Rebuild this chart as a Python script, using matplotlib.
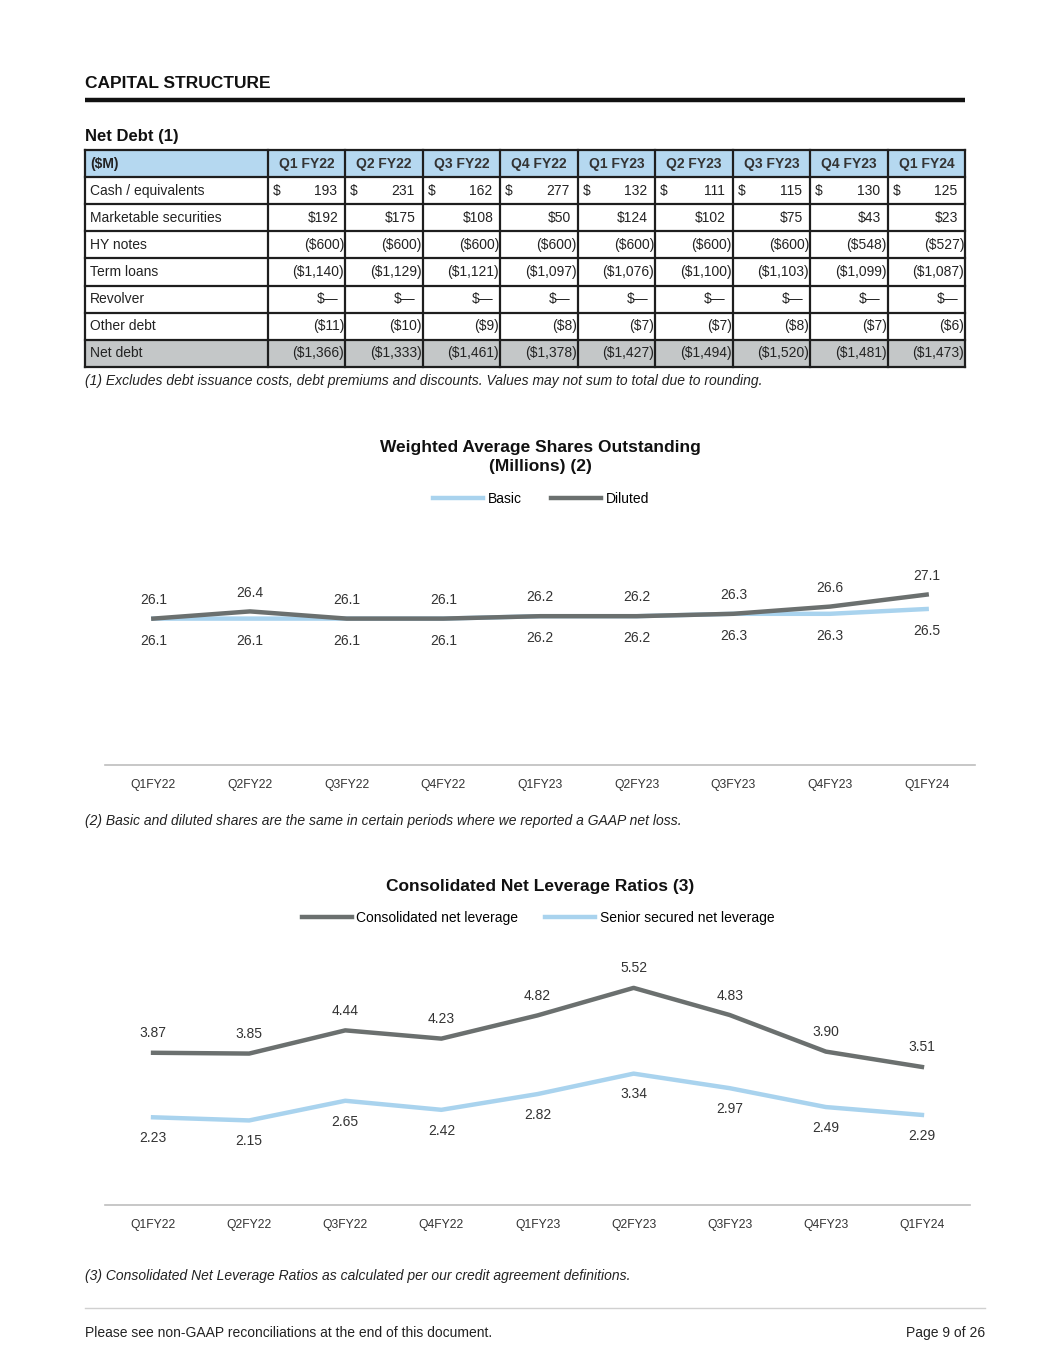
import numpy as np
import matplotlib
matplotlib.use("Agg")
import matplotlib.pyplot as plt
from matplotlib.patches import Rectangle

plt.rcParams['font.family'] = ['Liberation Sans', 'DejaVu Sans']

# ---- data ----
quarters = ["Q1 FY22", "Q2 FY22", "Q3 FY22", "Q4 FY22", "Q1 FY23",
            "Q2 FY23", "Q3 FY23", "Q4 FY23", "Q1 FY24"]
row_names = ["Cash / equivalents", "Marketable securities", "HY notes",
             "Term loans", "Revolver", "Other debt", "Net debt"]
cash = [193, 231, 162, 277, 132, 111, 115, 130, 125]
marketable = [192, 175, 108, 50, 124, 102, 75, 43, 23]
hy_notes = [-600, -600, -600, -600, -600, -600, -600, -548, -527]
term_loans = [-1140, -1129, -1121, -1097, -1076, -1100, -1103, -1099, -1087]
revolver = [0, 0, 0, 0, 0, 0, 0, 0, 0]
other_debt = [-11, -10, -9, -8, -7, -7, -8, -7, -6]
net_debt = [-1366, -1333, -1461, -1378, -1427, -1494, -1520, -1481, -1473]

periods = ["Q1FY22", "Q2FY22", "Q3FY22", "Q4FY22", "Q1FY23",
           "Q2FY23", "Q3FY23", "Q4FY23", "Q1FY24"]
basic = [26.1, 26.1, 26.1, 26.1, 26.2, 26.2, 26.3, 26.3, 26.5]
diluted = [26.1, 26.4, 26.1, 26.1, 26.2, 26.2, 26.3, 26.6, 27.1]
consolidated_lev = [3.87, 3.85, 4.44, 4.23, 4.82, 5.52, 4.83, 3.90, 3.51]
senior_lev = [2.23, 2.15, 2.65, 2.42, 2.82, 3.34, 2.97, 2.49, 2.29]

DARK = "#6B706F"
LIGHT = "#A9D3EE"
HEAD_BLUE = "#B5D8F0"
NET_GRAY = "#C4C7C8"
TXT = "#222222"
FS = 10

W, H = 1055, 1365
fig = plt.figure(figsize=(W / 100, H / 100), dpi=100)
page = fig.add_axes([0, 0, 1, 1])
page.set_xlim(0, W)
page.set_ylim(H, 0)
page.axis("off")

# ---- headings ----
page.text(85, 84, "CAPITAL STRUCTURE", fontsize=12.5, fontweight="bold", va="center", color="#111")
page.plot([85, 965], [100, 100], color="#111", lw=3.2, solid_capstyle="butt")
page.text(85, 136, "Net Debt (1)", fontsize=12, fontweight="bold", va="center", color="#111")


# ---- table ----
def fmt(v):
    if v == 0:
        return "$\u2014"
    if v < 0:
        return "(${:,})".format(-v)
    return "${:,}".format(v)


tbl_left, first_w, col_w = 85, 182.7, 77.5
head_top, head_h, row_h = 150, 27.3, 27.05
col_edges = [tbl_left, tbl_left + first_w] + [tbl_left + first_w + col_w * (k + 1) for k in range(9)]
rows = [cash, marketable, hy_notes, term_loans, revolver, other_debt, net_debt]

page.add_patch(Rectangle((tbl_left, head_top), col_edges[-1] - tbl_left, head_h,
                         facecolor=HEAD_BLUE, edgecolor="none"))
net_top = head_top + head_h + row_h * 6
page.add_patch(Rectangle((tbl_left, net_top), col_edges[-1] - tbl_left, row_h,
                         facecolor=NET_GRAY, edgecolor="none"))

yc = head_top + head_h / 2
page.text(tbl_left + 5, yc, "($M)", fontsize=FS, fontweight="bold", va="center", color=TXT)
for k, q in enumerate(quarters):
    cx = (col_edges[k + 1] + col_edges[k + 2]) / 2
    page.text(cx, yc, q, fontsize=FS, fontweight="bold", va="center", ha="center", color="#333")

for r, (name, vals) in enumerate(zip(row_names, rows)):
    top = head_top + head_h + row_h * r
    yc = top + row_h / 2
    page.text(tbl_left + 5, yc, name, fontsize=FS, va="center", color=TXT)
    for k, v in enumerate(vals):
        left, right = col_edges[k + 1], col_edges[k + 2]
        if r == 0:
            page.text(left + 5, yc, "$", fontsize=FS, va="center", color=TXT)
            page.text(right - 8, yc, "{:,}".format(v), fontsize=FS, va="center", ha="right", color=TXT)
        else:
            pad = 1 if v < 0 else 7
            page.text(right - pad, yc, fmt(v), fontsize=FS, va="center", ha="right", color=TXT)

ys = [head_top, head_top + head_h] + [head_top + head_h + row_h * (i + 1) for i in range(7)]
for y in ys:
    page.plot([tbl_left, col_edges[-1]], [y, y], color="#1E1E1E", lw=1.6, solid_capstyle="projecting")
for x in col_edges:
    page.plot([x, x], [head_top, ys[-1]], color="#1E1E1E", lw=1.6, solid_capstyle="projecting")

page.text(85, 381, "(1) Excludes debt issuance costs, debt premiums and discounts. Values may not sum to total due to rounding.",
          fontsize=FS, style="italic", va="center", color=TXT)

# ---- chart 1: shares ----
page.text(540, 457, "Weighted Average Shares Outstanding\n(Millions) (2)", fontsize=12.5, fontweight="bold",
          ha="center", va="center", linespacing=1.3, color="#111")


def px_axes(x0, x1, ytop, ybot):
    return fig.add_axes([x0 / W, 1 - ybot / H, (x1 - x0) / W, (ybot - ytop) / H])


ax1 = px_axes(105, 975, 525, 765)
x = np.arange(len(periods))
l_basic, = ax1.plot(x, basic, color=LIGHT, lw=3.2, label="Basic", zorder=2)
l_dil, = ax1.plot(x, diluted, color=DARK, lw=3.2, label="Diluted", zorder=3)
ax1.set_ylim(20, 30)
ax1.set_xlim(-0.5, len(periods) - 0.5)
for i in range(len(periods)):
    ax1.annotate("{:.1f}".format(diluted[i]), (x[i], diluted[i]), xytext=(0, 13.5), textcoords="offset points",
                 ha="center", va="center", fontsize=FS, color="#333")
    ax1.annotate("{:.1f}".format(basic[i]), (x[i], basic[i]), xytext=(0, -16), textcoords="offset points",
                 ha="center", va="center", fontsize=FS, color="#333")
fig.legend(handles=[l_basic, l_dil], loc="center", bbox_to_anchor=(541 / W, 1 - 499 / H), ncol=2,
           frameon=False, fontsize=FS, handlelength=3.6, columnspacing=2.1, handletextpad=0.35)

# ---- chart 2: leverage ----
page.text(540, 887, "Consolidated Net Leverage Ratios (3)", fontsize=12.5, fontweight="bold",
          ha="center", va="center", color="#111")
ax2 = px_axes(105, 970, 969, 1205)
l_cons, = ax2.plot(x, consolidated_lev, color=DARK, lw=3.2, label="Consolidated net leverage", zorder=3)
l_sen, = ax2.plot(x, senior_lev, color=LIGHT, lw=3.2, label="Senior secured net leverage", zorder=2)
ax2.set_ylim(0, 6)
ax2.set_xlim(-0.5, len(periods) - 0.5)
for i in range(len(periods)):
    ax2.annotate("{:.2f}".format(consolidated_lev[i]), (x[i], consolidated_lev[i]), xytext=(0, 14),
                 textcoords="offset points", ha="center", va="center", fontsize=FS, color="#333")
    ax2.annotate("{:.2f}".format(senior_lev[i]), (x[i], senior_lev[i]), xytext=(0, -15),
                 textcoords="offset points", ha="center", va="center", fontsize=FS, color="#333")
fig.legend(handles=[l_cons, l_sen], loc="center", bbox_to_anchor=(538 / W, 1 - 918 / H), ncol=2,
           frameon=False, fontsize=FS, handlelength=3.6, columnspacing=1.9, handletextpad=0.35)

for ax in (ax1, ax2):
    ax.patch.set_alpha(0)
    ax.set_xticks(x)
    ax.set_xticklabels(periods, fontsize=8.7, color="#333")
    ax.set_yticks([])
    ax.tick_params(axis="x", length=0, pad=10)
    for s in ("top", "left", "right"):
        ax.spines[s].set_visible(False)
    ax.spines["bottom"].set_color("#BDBDBD")
    ax.spines["bottom"].set_linewidth(1.2)

page.text(85, 821, "(2) Basic and diluted shares are the same in certain periods where we reported a GAAP net loss.",
          fontsize=FS, style="italic", va="center", color=TXT)
page.text(85, 1276, "(3) Consolidated Net Leverage Ratios as calculated per our credit agreement definitions.",
          fontsize=FS, style="italic", va="center", color=TXT)

# ---- footer ----
page.plot([85, 985], [1308, 1308], color="#D0D0D0", lw=1)
page.text(85, 1333, "Please see non-GAAP reconciliations at the end of this document.", fontsize=FS,
          va="center", color=TXT)
page.text(985, 1333, "Page 9 of 26", fontsize=FS, va="center", ha="right", color=TXT)

fig.savefig("out.png", dpi=100)
